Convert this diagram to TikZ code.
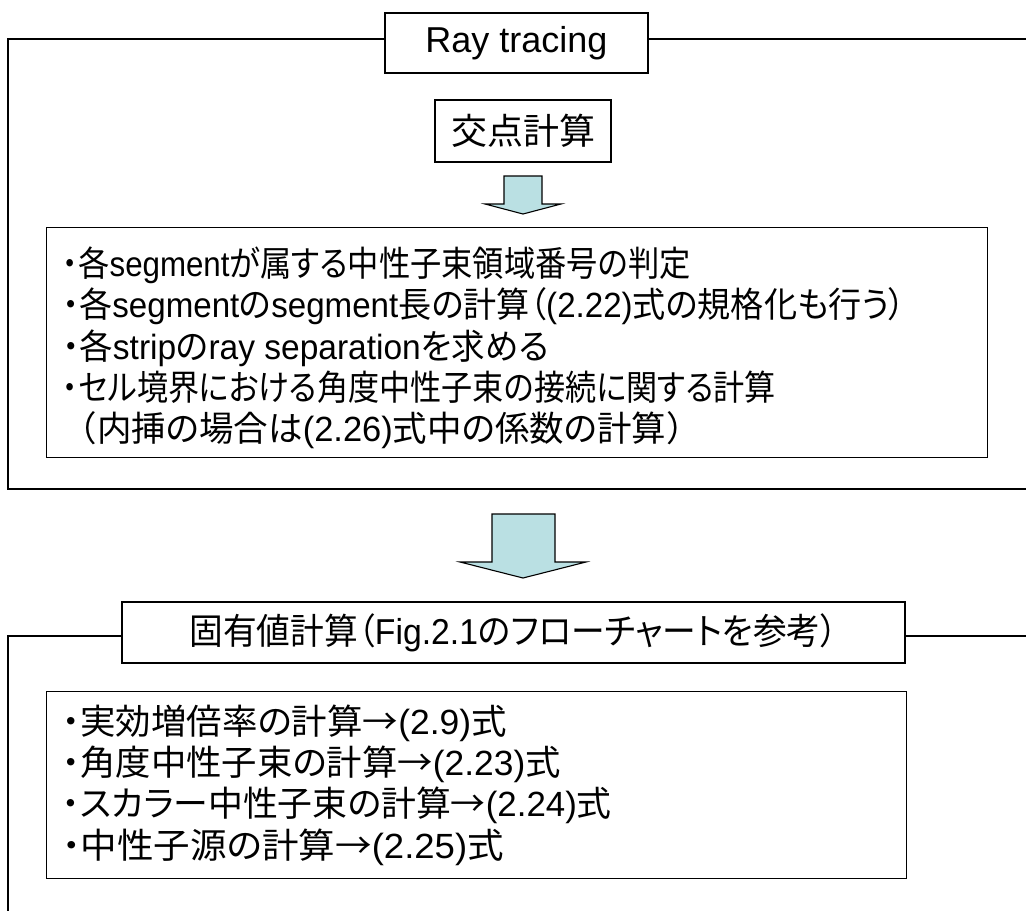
\documentclass[tikz,border=0pt]{standalone}
\usepackage{fontspec}
\setmainfont[RawFeature={+palt}]{Noto Sans CJK JP}
\newfontfamily\cjkfull{Noto Sans CJK JP}
\newfontfamily\latinfont{Liberation Sans}
\newcommand\la[1]{{\latinfont #1}}
\newcommand\fitline[2]{\resizebox{#1pt}{\height}{#2}}
\definecolor{arrowfill}{RGB}{186,224,227}
\begin{document}
\begin{tikzpicture}[x=1pt,y=-1pt,line width=1.4pt,
  titlebox/.style={draw,fill=white,inner sep=0pt,font=\fontsize{36}{40}\selectfont},
  listbox/.style={draw,inner sep=0pt,anchor=north west},
  listtext/.style={inner sep=0pt,align=left,anchor=west,font=\fontsize{35}{41.3}\selectfont},
  blockarrow/.style={draw,fill=arrowfill,line width=1.1pt,line join=miter}]
\useasboundingbox (0,0) rectangle (1026,911);
% frame 1
\node[titlebox,minimum width=263pt,minimum height=60pt] (rt) at (516.5,43) {\la{Ray tracing}};
\coordinate (f1tl) at (8,39);
\coordinate (f1tr) at (1026,39);
\coordinate (f1bl) at (8,489);
\coordinate (f1br) at (1026,489);
\draw (rt.west |- f1tl) -- (f1tl) -- (f1bl) -- (f1br);
\draw (rt.east |- f1tr) -- (f1tr);
\node[titlebox,minimum width=176pt,minimum height=62pt] (kp) at (523,131) {交点計算};
\draw[blockarrow] (504,176) -- (542,176) -- (542,204) -- (561,204) -- (523,214) -- (485,204) -- (504,204) -- cycle;
\node[listbox,minimum width=941pt,minimum height=230pt] (b1) at (46,227) {};
\node[listtext] (t1) at (62,348) {\fitline{628}{・各\la{segment}が属する中性子束領域番号の判定}\\
\fitline{843}{・各\la{segment}の\la{segment}長の計算（\la{(2.22)}式の規格化も行う）}\\
\fitline{486}{・各\la{strip}の\la{ray separation}を求める}\\
\fitline{713}{・セル境界における角度中性子束の接続に関する計算}\\
\fitline{638}{{\cjkfull （}内挿の場合は\la{(2.26)}式中の係数の計算{\cjkfull ）}}};
% big arrow
\draw[blockarrow] (492,514) -- (555,514) -- (555,562) -- (586,562) -- (523,578) -- (460,562) -- (492,562) -- cycle;
% frame 2
\node[titlebox,minimum width=783pt,minimum height=61pt] (t2) at (513.5,632.5) {\fitline{648}{固有値計算（\la{Fig.2.1}のフローチャートを参考）}};
\coordinate (f2tl) at (8,636);
\coordinate (f2tr) at (1026,636);
\coordinate (f2bl) at (8,911);
\draw (t2.west |- f2tl) -- (f2tl) -- (f2bl);
\draw (t2.east |- f2tr) -- (f2tr);
\node[listbox,minimum width=860pt,minimum height=187pt] (b2) at (46,691) {};
\node[listtext] (t3) at (62,785) {\fitline{444}{・実効増倍率の計算→\la{(2.9)}式}\\
\fitline{498}{・角度中性子束の計算→\la{(2.23)}式}\\
\fitline{549}{・スカラー中性子束の計算→\la{(2.24)}式}\\
\fitline{441}{・中性子源の計算→\la{(2.25)}式}};
\end{tikzpicture}
\end{document}
